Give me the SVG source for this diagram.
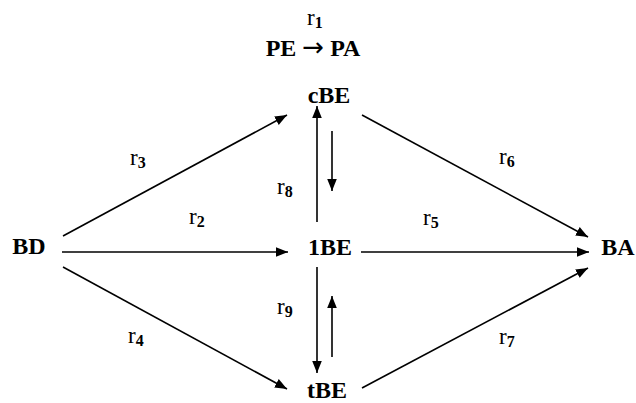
<svg xmlns="http://www.w3.org/2000/svg" width="636" height="403" viewBox="0 0 636 403">
<style>
.n{font-family:"Liberation Serif",serif;font-weight:bold;font-size:24px;fill:#000}
.r{font-family:"Liberation Serif",serif;font-size:23px;fill:#000}
.s{font-size:16px;font-weight:bold}
.ar{font-family:"DejaVu Sans",sans-serif;font-weight:normal;font-size:26px}
.c{stroke:#000;stroke-width:1.6;fill:none;marker-end:url(#ah)}
</style>
<defs>
<marker id="ah" viewBox="0 0 10 8" refX="10" refY="4" markerWidth="12" markerHeight="10" markerUnits="userSpaceOnUse" orient="auto">
<path d="M0,0L10,4L0,8Z" fill="#000"/>
</marker>
</defs>
<rect width="636" height="403" fill="#fff"/>
<g id="connectors">
<line class="c" x1="63" y1="236" x2="287" y2="115"/>
<line class="c" x1="62" y1="252" x2="288" y2="252"/>
<line class="c" x1="63" y1="267" x2="287" y2="389"/>
<line class="c" x1="362" y1="115" x2="588" y2="237"/>
<line class="c" x1="361" y1="252" x2="589" y2="252"/>
<line class="c" x1="362" y1="388" x2="588" y2="268"/>
<line class="c" x1="317" y1="222" x2="317" y2="106"/>
<line class="c" x1="332" y1="131" x2="332" y2="191"/>
<line class="c" x1="317" y1="267" x2="317" y2="373"/>
<line class="c" x1="332" y1="357" x2="332" y2="296"/>
</g>
<g id="labels">
<text class="r" x="307" y="25">r<tspan class="s" dy="3">1</tspan></text>
<text class="r" x="130" y="165">r<tspan class="s" dy="3">3</tspan></text>
<text class="r" x="189" y="224">r<tspan class="s" dy="3">2</tspan></text>
<text class="r" x="128" y="343">r<tspan class="s" dy="3">4</tspan></text>
<text class="r" x="277" y="194">r<tspan class="s" dy="3">8</tspan></text>
<text class="r" x="277" y="314">r<tspan class="s" dy="3">9</tspan></text>
<text class="r" x="423" y="225">r<tspan class="s" dy="3">5</tspan></text>
<text class="r" x="499" y="164">r<tspan class="s" dy="3">6</tspan></text>
<text class="r" x="499" y="344">r<tspan class="s" dy="3">7</tspan></text>
</g>
<g id="PE_PA"><text class="n" x="313" y="56" text-anchor="middle">PE <tspan class="ar">→</tspan> PA</text></g>
<g id="cBE"><text class="n" x="329" y="103" text-anchor="middle">cBE</text></g>
<g id="BD"><text class="n" x="29" y="254" text-anchor="middle">BD</text></g>
<g id="1BE"><text class="n" x="330" y="255" text-anchor="middle">1BE</text></g>
<g id="BA"><text class="n" x="618" y="255" text-anchor="middle">BA</text></g>
<g id="tBE"><text class="n" x="327" y="398" text-anchor="middle">tBE</text></g>
</svg>
